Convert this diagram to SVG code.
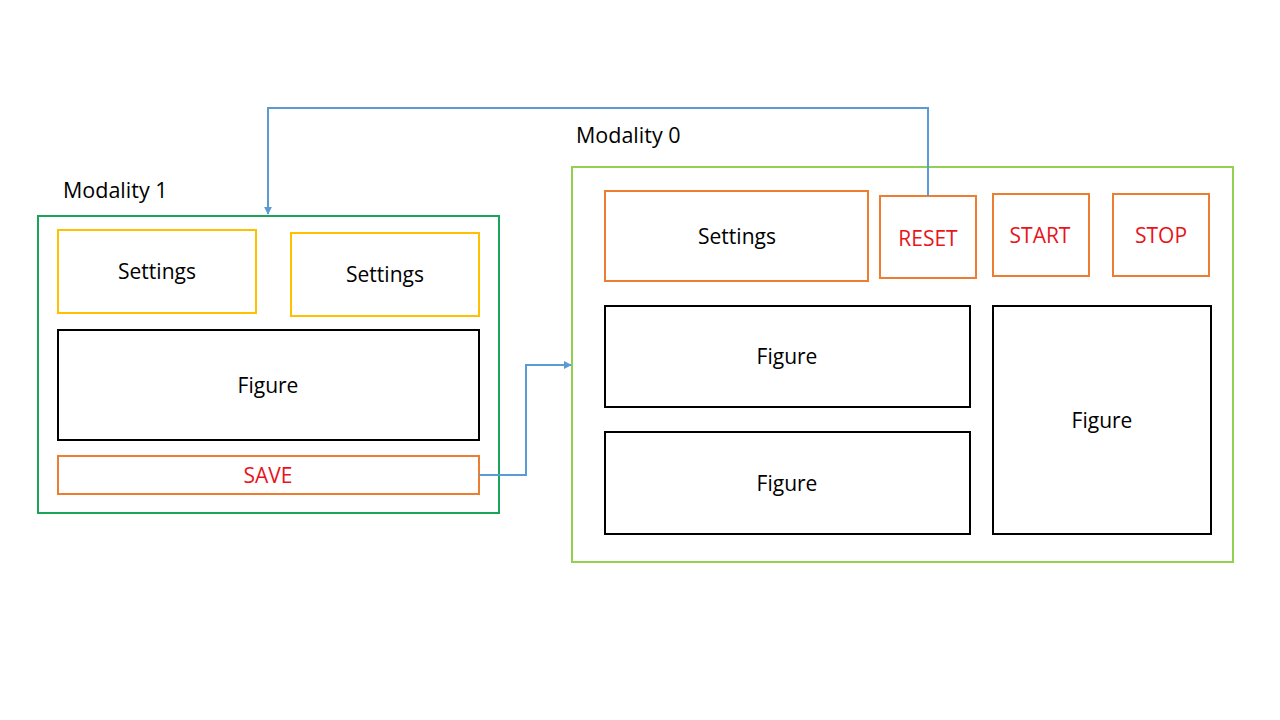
<svg xmlns="http://www.w3.org/2000/svg" width="1280" height="720" viewBox="0 0 1280 720">
<style>
text{font-family:"Open Sans","Liberation Sans",sans-serif;font-size:21px;text-anchor:middle;dominant-baseline:central;fill:#000}
.lbl{text-anchor:start;dominant-baseline:auto;font-size:21.5px}
.red{fill:#e8141c}
rect{fill:#fff;stroke-width:2}
.cg{stroke:#18a55a}
.cl{stroke:#92d050}
.y{stroke:#ffc000}
.o{stroke:#ed7d31}
.k{stroke:#000}
.conn{fill:none;stroke:#5b9bd5;stroke-width:2}
</style>
<defs>
<marker id="ah" viewBox="0 0 10 10" refX="9" refY="5" markerWidth="4" markerHeight="4" orient="auto"><path d="M0,0L10,5L0,10z" fill="#5b9bd5"/></marker>
</defs>
<rect width="1280" height="720" style="fill:#fff;stroke:none"/>
<g id="modality1">
<text class="lbl" x="63" y="198">Modality 1</text>
<rect class="cg" x="38" y="216" width="461" height="297"/>
</g>
<g id="modality0">
<text class="lbl" x="576" y="143">Modality 0</text>
<rect class="cl" x="572" y="167" width="661" height="395"/>
</g>
<g id="m1-settings-a"><rect class="y" x="58" y="230" width="198" height="83"/><text x="157" y="271">Settings</text></g>
<g id="m1-settings-b"><rect class="y" x="291" y="233" width="188" height="83"/><text x="385" y="274">Settings</text></g>
<g id="m1-figure"><rect class="k" x="58" y="330" width="421" height="110"/><text x="268" y="385">Figure</text></g>
<g id="m1-save"><rect class="o" x="58" y="456" width="421" height="38"/><text class="red" x="268" y="475">SAVE</text></g>
<g id="m0-settings"><rect class="o" x="605" y="191" width="263" height="90"/><text x="737" y="236">Settings</text></g>
<g id="m0-reset"><rect class="o" x="880" y="196" width="96" height="82"/><text class="red" x="928" y="238">RESET</text></g>
<g id="m0-start"><rect class="o" x="993" y="194" width="96" height="82"/><text class="red" x="1040" y="235">START</text></g>
<g id="m0-stop"><rect class="o" x="1113" y="194" width="96" height="82"/><text class="red" x="1161" y="235">STOP</text></g>
<g id="m0-figure-a"><rect class="k" x="605" y="306" width="365" height="101"/><text x="787" y="356">Figure</text></g>
<g id="m0-figure-b"><rect class="k" x="605" y="432" width="365" height="102"/><text x="787" y="483">Figure</text></g>
<g id="m0-figure-c"><rect class="k" x="993" y="306" width="218" height="228"/><text x="1102" y="420">Figure</text></g>
<g id="connectors">
<path class="conn" d="M928,196V108H268V214" marker-end="url(#ah)"/>
<path class="conn" d="M479,475H526V365H571" marker-end="url(#ah)"/>
</g>
</svg>
